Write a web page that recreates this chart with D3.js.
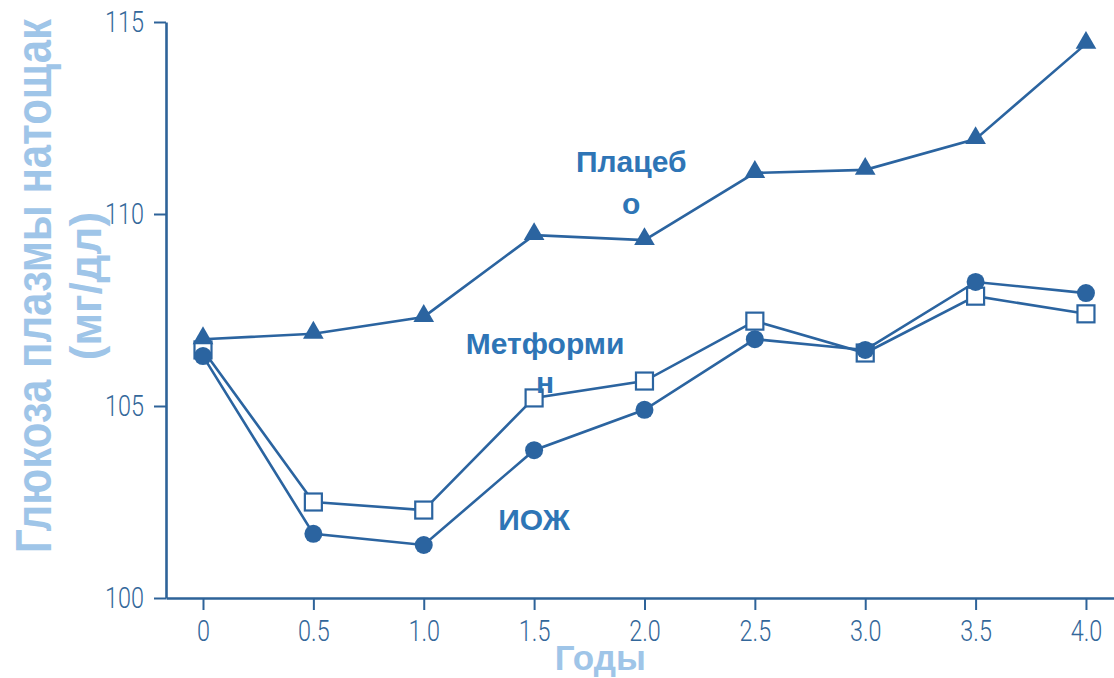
<!DOCTYPE html>
<html>
<head>
<meta charset="utf-8">
<script src="https://cdn.jsdelivr.net/npm/d3@7"></script>
<style>
  html, body { margin: 0; padding: 0; background: #ffffff; }
  svg { display: block; }
</style>
</head>
<body>
<svg id="chart" width="1114" height="678"></svg>
<script>
// Fasting plasma glucose by study year for three arms
const years = [0, 0.5, 1.0, 1.5, 2.0, 2.5, 3.0, 3.5, 4.0];
const xTickLabels = ["0", "0.5", "1.0", "1.5", "2.0", "2.5", "3.0", "3.5", "4.0"];
const yTicks = [100, 105, 110, 115];
const yTickLabels = ["100", "105", "110", "115"];

const placebo   = [106.74, 106.88, 107.32, 109.45, 109.32, 111.07, 111.15, 111.95, 114.43];
const metformin = [106.46, 102.50, 102.29, 105.21, 105.65, 107.21, 106.38, 107.86, 107.40];
const lifestyle = [106.30, 101.67, 101.38, 103.85, 104.90, 106.74, 106.46, 108.23, 107.94];

const blue = "#2b64a0";
const axisBlue = "#2e6399";
const tickTextBlue = "#33679a";
const labelBlue = "#2e75b6";
const titleBlue = "#9fc5e8";

const svg = d3.select("#chart");

const x = d3.scaleLinear().domain([-0.1676, 4.127]).range([166, 1114]);
const y = d3.scaleLinear().domain([100, 115]).range([598, 22]);

// Condensed tick lettering
const squeeze = 0.78;
const tickFont = "Roboto, 'Liberation Sans', sans-serif";

// Axes
const xAxis = svg.append("g")
  .attr("transform", `translate(0,${y(100)})`)
  .call(d3.axisBottom(x).tickValues(years)
    .tickFormat((d, i) => xTickLabels[i])
    .tickSize(12).tickSizeOuter(0).tickPadding(10));

const yAxis = svg.append("g")
  .attr("transform", `translate(${x.range()[0]},0)`)
  .call(d3.axisLeft(y).tickValues(yTicks)
    .tickFormat((d, i) => yTickLabels[i])
    .tickSize(12).tickSizeOuter(0).tickPadding(10));

[xAxis, yAxis].forEach(g => {
  g.select(".domain").attr("stroke", axisBlue).attr("stroke-width", 2.6);
  g.selectAll(".tick line").attr("stroke", axisBlue).attr("stroke-width", 2);
  g.selectAll(".tick text")
    .attr("fill", tickTextBlue)
    .style("font-family", tickFont)
    .style("font-weight", "300")
    .style("font-size", "30px");
});
xAxis.selectAll(".tick text").attr("transform", `scale(${squeeze},1)`);
yAxis.selectAll(".tick text")
  .attr("x", -22 / squeeze)
  .attr("transform", `scale(${squeeze},1)`);

// Lines
const line = d3.line().x((d, i) => x(years[i])).y(d => y(d));

[lifestyle, metformin, placebo].forEach(s => {
  svg.append("path")
    .datum(s)
    .attr("d", line)
    .attr("fill", "none")
    .attr("stroke", blue)
    .attr("stroke-width", 2.6);
});

// Markers: open squares, filled circles, filled triangles
svg.append("g").selectAll("rect")
  .data(metformin)
  .join("rect")
  .attr("x", (d, i) => x(years[i]) - 8.5)
  .attr("y", d => y(d) - 8.5)
  .attr("width", 17)
  .attr("height", 17)
  .attr("fill", "#ffffff")
  .attr("stroke", blue)
  .attr("stroke-width", 2.2);

svg.append("g").selectAll("circle")
  .data(lifestyle)
  .join("circle")
  .attr("cx", (d, i) => x(years[i]))
  .attr("cy", d => y(d))
  .attr("r", 9)
  .attr("fill", blue);

const tri = d3.symbol().type(d3.symbolTriangle).size(185);
svg.append("g").selectAll("path")
  .data(placebo)
  .join("path")
  .attr("d", tri)
  .attr("transform", (d, i) => `translate(${x(years[i])},${y(d) - 1})`)
  .attr("fill", blue);

// Series annotations
const annot = [
  { lines: ["Плацеб", "о"], cx: 1.94, base: [111.1, 110.0] },
  { lines: ["Метформи", "н"], cx: 1.55, base: [106.35, 105.35] },
  { lines: ["ИОЖ"], cx: 1.5, base: [101.78] }
];
annot.forEach(a => {
  a.lines.forEach((t, k) => {
    svg.append("text")
      .attr("x", x(a.cx))
      .attr("y", y(a.base[k]))
      .attr("text-anchor", "middle")
      .attr("fill", labelBlue)
      .style("font-family", "'Liberation Sans', Arial, sans-serif")
      .style("font-weight", "bold")
      .style("font-size", "30px")
      .text(t);
  });
});

// Axis titles (tall lettering on the vertical title)
svg.append("text")
  .attr("transform", "translate(51,286) rotate(-90) scale(1,1.19)")
  .attr("text-anchor", "middle")
  .attr("fill", titleBlue)
  .style("font-family", "'Liberation Sans', Arial, sans-serif")
  .style("font-weight", "bold")
  .style("font-size", "42px")
  .text("Глюкоза плазмы натощак");

svg.append("text")
  .attr("transform", "translate(101,286) rotate(-90)")
  .attr("text-anchor", "middle")
  .attr("fill", titleBlue)
  .style("font-family", "'Liberation Sans', Arial, sans-serif")
  .style("font-weight", "bold")
  .style("font-size", "44px")
  .text("(мг/дл)");

svg.append("text")
  .attr("x", x(1.8))
  .attr("y", 670)
  .attr("text-anchor", "middle")
  .attr("fill", titleBlue)
  .style("font-family", "'Liberation Sans', Arial, sans-serif")
  .style("font-weight", "bold")
  .style("font-size", "35px")
  .text("Годы");
</script>
</body>
</html>
